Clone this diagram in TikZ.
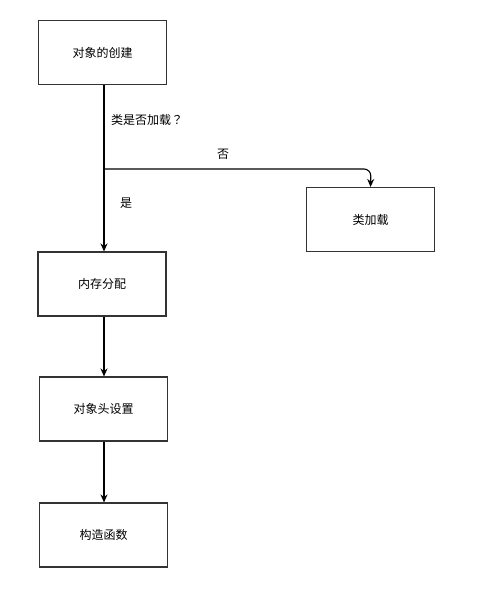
\documentclass[tikz,border=0pt]{standalone}
\usepackage{fontspec}
\setmainfont{Noto Sans CJK SC}
\newfontfamily\jpfont{Noto Sans CJK JP}
\usetikzlibrary{arrows.meta}
\begin{document}
\begin{tikzpicture}[x=1pt,y=-1pt,
  box/.style={draw=black!80,line width=1.1pt,minimum width=128pt,minimum height=64pt,inner sep=0pt,font=\fontsize{12}{14}\selectfont},
  arr/.style={draw=black,line width=1.1pt,-{Stealth[length=8pt,width=7pt]}},
  lbl/.style={font=\fontsize{12}{14}\selectfont,inner sep=0pt}]
\useasboundingbox (0,0) rectangle (492,594);
\node[box] (create) at (102.5,52.5) {对象的创建};
\node[box] (load) at (370.5,219.5) {类加载};
\node[box] (alloc) at (102,284) {内存分配};
\node[box] (head) at (103.5,409) {对象头设置};
\node[box] (ctor) at (103.5,535) {构造函数};
\coordinate (branch) at (104,169);
\draw[arr] (create.south -| branch) -- (alloc.north -| branch);
\draw[arr,rounded corners=7pt] (branch) -- (371,169) -- (load.north);
\draw[arr] (alloc.south -| branch) -- (head.north -| branch);
\draw[arr] (head.south -| branch) -- (ctor.north -| branch);
\node[lbl,anchor=west] (q) at (111,120) {类是否加载{\jpfont ？}};
\node[lbl] (no) at (223,154) {否};
\node[lbl] (yes) at (126,203) {是};
\end{tikzpicture}
\end{document}
